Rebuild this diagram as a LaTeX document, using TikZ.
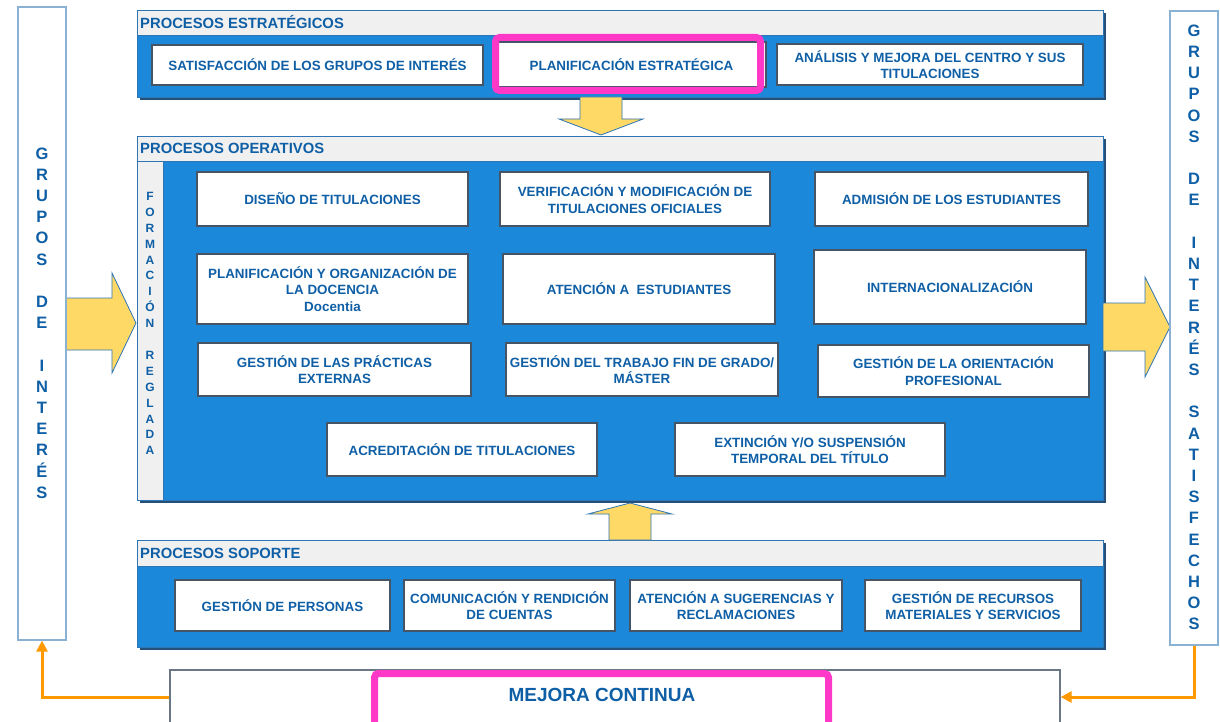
\documentclass[tikz,border=0pt]{standalone}
\usepackage{fontspec}
\setmainfont{Liberation Sans}
\usetikzlibrary{arrows.meta,fit}

\definecolor{txtblue}{HTML}{0F5FA6}
\definecolor{boxblue}{HTML}{1B88D9}
\definecolor{hdrgray}{HTML}{F0F0F0}
\definecolor{edgeblue}{HTML}{2E75B6}
\definecolor{shadowblue}{HTML}{24507A}
\definecolor{arrowyellow}{HTML}{FFD966}
\definecolor{hlpink}{HTML}{FF38C8}
\definecolor{linkorange}{HTML}{FF9900}
\definecolor{colborder}{HTML}{8AB0D4}
\definecolor{wedge}{HTML}{465566}

\newcommand{\pbox}[6]{\node[wbox, minimum width={#4-#2}, minimum height={#5-#3}] (#1) at ({(#2+#4)/2},{(#3+#5)/2}) {#6};}

\begin{document}
\begin{tikzpicture}[x=1pt,y=-1pt,
  wbox/.style={draw=wedge, line width=1.8pt, fill=white, align=center, text=txtblue,
    font=\fontsize{13.4}{16.3}\selectfont\bfseries, inner sep=1pt},
  bigbox/.style={fill=boxblue, draw=edgeblue, line width=0.8pt, inner sep=0pt},
  bigshadow/.style={fill=shadowblue},
  hdr/.style={fill=hdrgray, draw=edgeblue, line width=0.8pt},
  hdrtext/.style={anchor=west, text=txtblue, font=\fontsize{14.8}{17}\selectfont\bfseries, inner sep=0pt},
  colbox/.style={draw=colborder, line width=1.2pt, fill=white, inner sep=0pt},
  coltext/.style={align=center, text=txtblue, font=\fontsize{16.5}{21.2}\selectfont\bfseries, inner sep=0pt},
  striptext/.style={align=center, text=txtblue, font=\fontsize{12}{15.9}\selectfont\bfseries, inner sep=0pt},
  blockarrow/.style={fill=arrowyellow, draw=edgeblue, line width=0.8pt},
  pinkhl/.style={draw=hlpink, line width=7pt, rounded corners=4pt},
  orangeconn/.style={draw=linkorange, line width=3pt, -{Triangle[length=11pt,width=11pt]}}
]
\useasboundingbox (0,0) rectangle (1220,722);

% ---------- shadows of the big boxes
\fill[bigshadow] (140,13) rectangle (1106,100);
\fill[bigshadow] (140,139) rectangle (1106,503);
\fill[bigshadow] (140,543) rectangle (1106,650);

% ---------- big boxes
\node[bigbox, fit={(137,10)(1103,97)}] (estr) {};
\node[bigbox, fit={(137,136)(1103,500)}] (oper) {};
\node[bigbox, fit={(137,540)(1103,647)}] (sop) {};

\draw[hdr] (137,10) rectangle (1103,35);
\draw[hdr] (137,136) rectangle (1103,161);
\draw[hdr] (137,161) rectangle (163,500);
\draw[hdr] (137,540) rectangle (1103,566);

\node[hdrtext] (estrh) at (140,22.5) {PROCESOS ESTRATÉGICOS};
\node[hdrtext] (operh) at (140,148.5) {PROCESOS OPERATIVOS};
\node[hdrtext] (soph) at (140,553) {PROCESOS SOPORTE};

\node[striptext] (formacion) at (150,323.5) {F\\O\\R\\M\\A\\C\\I\\Ó\\N\\\mbox{}\\R\\E\\G\\L\\A\\D\\A};

% ---------- strategic processes
\pbox{satis}{152}{45}{483}{85}{SATISFACCIÓN DE LOS GRUPOS DE INTERÉS}
\pbox{plan}{497}{42}{766}{87}{PLANIFICACIÓN ESTRATÉGICA}
\pbox{anal}{777}{44}{1083}{85}{ANÁLISIS Y MEJORA DEL CENTRO Y SUS\\TITULACIONES}
\draw[pinkhl] (495.5,37.5) rectangle (760.5,90.5);

% ---------- operative processes
\pbox{diseno}{197}{172}{468}{226}{DISEÑO DE TITULACIONES}
\pbox{verif}{500}{172}{770}{226}{VERIFICACIÓN Y MODIFICACIÓN DE\\TITULACIONES OFICIALES}
\pbox{admis}{815}{172}{1088}{226}{ADMISIÓN DE LOS ESTUDIANTES}
\pbox{planif}{197}{254}{468}{324}{PLANIFICACIÓN Y ORGANIZACIÓN DE\\LA DOCENCIA\\Docentia}
\pbox{atenc}{503}{254}{775}{324}{ATENCIÓN A\ \ ESTUDIANTES}
\pbox{intern}{814}{250}{1086}{324}{INTERNACIONALIZACIÓN}
\pbox{practicas}{198}{343}{471}{396}{GESTIÓN DE LAS PRÁCTICAS\\EXTERNAS}
\pbox{tfg}{506}{343}{778}{396}{GESTIÓN DEL TRABAJO FIN DE GRADO/\\MÁSTER}
\pbox{orient}{818}{345}{1089}{397}{GESTIÓN DE LA ORIENTACIÓN\\PROFESIONAL}
\pbox{acred}{327}{423}{597}{476}{ACREDITACIÓN DE TITULACIONES}
\pbox{extin}{675}{423}{945}{476}{EXTINCIÓN Y/O SUSPENSIÓN\\TEMPORAL DEL TÍTULO}

% ---------- support processes
\pbox{personas}{175}{580}{390}{631}{GESTIÓN DE PERSONAS}
\pbox{comun}{404}{580}{615}{631}{COMUNICACIÓN Y RENDICIÓN\\DE CUENTAS}
\pbox{suger}{630}{580}{842}{631}{ATENCIÓN A SUGERENCIAS Y\\RECLAMACIONES}
\pbox{recursos}{865}{580}{1081}{631}{GESTIÓN DE RECURSOS\\MATERIALES Y SERVICIOS}

% ---------- block arrows
\draw[blockarrow] (580,97) -- (622,97) -- (622,119) -- (643,119) -- (601,135) -- (559,119) -- (580,119) -- cycle;
\draw[blockarrow] (609,540) -- (651,540) -- (651,514) -- (672,514) -- (630,503) -- (588,514) -- (609,514) -- cycle;
\draw[blockarrow] (66,298) -- (112,298) -- (112,273) -- (136,323) -- (112,373) -- (112,350) -- (66,350) -- cycle;
\draw[blockarrow] (1103,303) -- (1145,303) -- (1145,277) -- (1170,327) -- (1145,377) -- (1145,351) -- (1103,351) -- cycle;

% ---------- side columns
\node[colbox, fit={(18,7)(66,640)}] (leftcol) {};
\node[colbox, fit={(1170,11)(1218,645)}] (rightcol) {};
\node[coltext] (lefttxt) at (42,323) {G\\R\\U\\P\\O\\S\\\mbox{}\\D\\E\\\mbox{}\\I\\N\\T\\E\\R\\É\\S};
\node[coltext] (righttxt) at (1194,327.5) {G\\R\\U\\P\\O\\S\\\mbox{}\\D\\E\\\mbox{}\\I\\N\\T\\E\\R\\É\\S\\\mbox{}\\S\\A\\T\\I\\S\\F\\E\\C\\H\\O\\S};

% ---------- continuous improvement
\node[draw=wedge!80, line width=1.2pt, fill=white, inner sep=0pt, fit={(170,670)(1060,724)}] (mejoraout) {};
\draw[pinkhl, fill=white] (374.5,673.5) rectangle (828.5,728);
\node[text=txtblue, font=\fontsize{19}{22}\selectfont\bfseries] (mejora) at (602,695) {MEJORA CONTINUA};

\draw[orangeconn] (mejoraout.west) -| (leftcol.south);
\draw[orangeconn] (rightcol.south) |- (mejoraout.east);
\end{tikzpicture}
\end{document}
